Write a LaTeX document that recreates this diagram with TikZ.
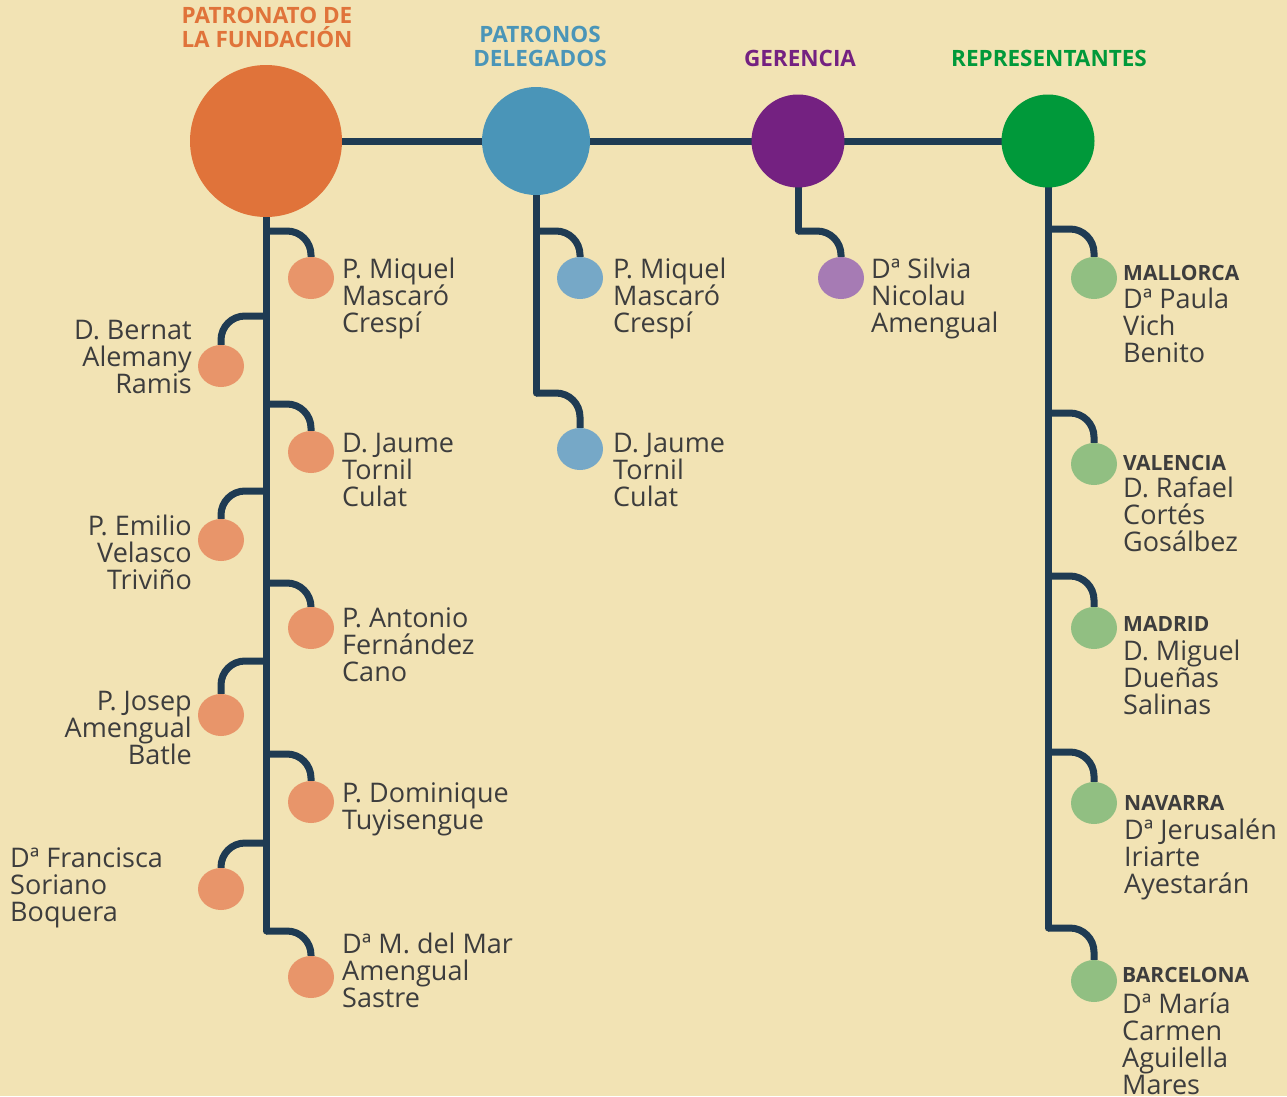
\documentclass[tikz,border=0pt]{standalone}
\usepackage{fontspec}
\setmainfont{Open Sans}
\usepackage{tikz}
\usetikzlibrary{shapes.geometric}
\usetikzlibrary{backgrounds}

\definecolor{fondo}{HTML}{F2E3B4}
\definecolor{linea}{HTML}{1F3B53}
\definecolor{texto}{HTML}{3D3D3D}
\definecolor{naranja}{HTML}{E0733A}
\definecolor{naranjaclaro}{HTML}{E8956A}
\definecolor{azul}{HTML}{4A95B8}
\definecolor{azulclaro}{HTML}{76A8C7}
\definecolor{morado}{HTML}{742181}
\definecolor{moradoclaro}{HTML}{A67BB4}
\definecolor{verde}{HTML}{00993A}
\definecolor{verdeclaro}{HTML}{91BF82}

\newcommand{\zona}[1]{{\bfseries\fontsize{21}{21}\selectfont #1}}

\begin{document}
\lineskiplimit=-50pt
\begin{tikzpicture}[x=1pt, y=-1pt,
  head/.style={font=\bfseries\fontsize{22.5}{24}\selectfont, align=center, anchor=base, inner sep=0},
  hub/.style={circle, inner sep=0, minimum size=#1},
  dot/.style={ellipse, inner sep=0, minimum width=46, minimum height=42},
  who/.style={font=\fontsize{27}{27}\selectfont, text=texto, inner sep=0},
  trunk/.style={linea, line width=7, line cap=round},
  branch/.style={linea, line width=7, rounded corners=24}]

  \useasboundingbox (0,0) rectangle (1287,1096);

	%headers (anchored on the last line)
  \node[head, naranja] (hpat) at (267,47) {PATRONATO DE\\LA FUNDACIÓN};
  \node[head, azul] (hdel) at (540,66) {PATRONOS\\DELEGADOS};
  \node[head, morado] (hger) at (800,66) {GERENCIA};
  \node[head, verde] (hrep) at (1049,66) {REPRESENTANTES};

	%main circles
  \node[hub=152, fill=naranja] (pat) at (266,141) {};
  \node[hub=108, fill=azul] (del) at (536,141) {};
  \node[hub=93, fill=morado] (ger) at (798,141) {};
  \node[hub=93, fill=verde] (rep) at (1048,141) {};

	%dots
  \foreach \i/\x/\y/\by in {1/311/278/231, 2/221/366/316, 3/311/452/404, 4/221/540/491,
                            5/311/628/583, 6/221/715/661, 7/311/802/754, 8/221/889/843, 9/311/977/931}{
    \node[dot, fill=naranjaclaro] (o\i) at (\x,\y) {};
    \coordinate (ob\i) at (266,\by);
  }
  \foreach \i/\y/\by in {1/278/231, 2/449/393}{
    \node[dot, fill=azulclaro] (d\i) at (580,\y) {};
    \coordinate (db\i) at (536,\by);
  }
  \node[dot, fill=moradoclaro] (g1) at (841,278) {};
  \coordinate (gb1) at (798,231);
  \foreach \i/\y/\by in {1/278/229, 2/464/413, 3/628/576, 4/803/752, 5/981/928}{
    \node[dot, fill=verdeclaro] (r\i) at (1094,\y) {};
    \coordinate (rb\i) at (1048,\by);
  }

	%lines
  \begin{scope}[on background layer]
    \fill[fondo] (0,0) rectangle (1287,1096);
    \draw[trunk] (pat) -- (rep);
    \draw[trunk] (pat) -- (ob9);
    \draw[trunk] (del) -- (db2);
    \draw[trunk] (ger) -- (gb1);
    \draw[trunk] (rep) -- (rb5);
    \foreach \i in {1,...,9} \draw[branch] (ob\i) -| (o\i);
    \foreach \i in {1,2} \draw[branch] (db\i) -| (d\i);
    \draw[branch] (gb1) -| (g1);
    \foreach \i in {1,...,5} \draw[branch] (rb\i) -| (r\i);
  \end{scope}

	%names (anchored on the last line)
  \foreach \n/\x/\y/\txt in {lo1/342/332/{P. Miquel\\Mascaró\\Crespí}, lo3/342/506/{D. Jaume\\Tornil\\Culat},
                            lo5/342/681/{P. Antonio\\Fernández\\Cano}, lo7/342/829/{P. Dominique\\Tuyisengue},
                            lo9/342/1007/{Dª M. del Mar\\Amengual\\Sastre}, lo8/10/921/{Dª Francisca\\Soriano\\Boquera},
                            ld1/613/332/{P. Miquel\\Mascaró\\Crespí}, ld2/613/506/{D. Jaume\\Tornil\\Culat},
                            lg1/871/332/{Dª Silvia\\Nicolau\\Amengual}}{
    \node[who, anchor=base west, align=left] (\n) at (\x,\y) {\txt};
  }
  \foreach \n/\y/\txt in {lo2/393/{D. Bernat\\Alemany\\Ramis}, lo4/589/{P. Emilio\\Velasco\\Triviño},
                         lo6/764/{P. Josep\\Amengual\\Batle}}{
    \node[who, anchor=base east, align=right] (\n) at (192,\y) {\txt};
  }
  \foreach \n/\x/\y/\txt in {lr1/1123/362/{\zona{MALLORCA}\\[1pt]Dª Paula\\Vich\\Benito},
                            lr2/1123/551/{\zona{VALENCIA}\\D. Rafael\\Cortés\\Gosálbez},
                            lr3/1123/714/{\zona{MADRID}\\[2pt]D. Miguel\\Dueñas\\Salinas},
                            lr4/1124/893/{\zona{NAVARRA}\\[2pt]Dª Jerusalén\\Iriarte\\Ayestarán},
                            lr5/1122/1094/{\zona{BARCELONA}\\[4pt]Dª María\\Carmen\\Aguilella\\Mares}}{
    \node[who, anchor=base west, align=left] (\n) at (\x,\y) {\txt};
  }

\end{tikzpicture}
\end{document}
